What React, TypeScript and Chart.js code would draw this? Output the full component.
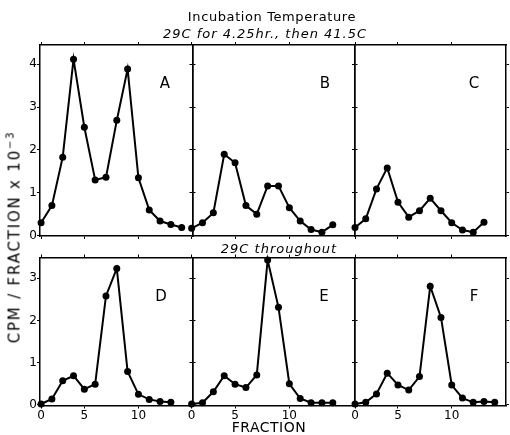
import React, { useEffect, useRef } from "react";
import { Chart, registerables } from "chart.js";

Chart.register(...registerables);

// ---- data ----
const FRACTIONS = [1, 2, 3, 4, 5, 6, 7, 8, 9, 10, 11, 12, 13, 14];
const A_VALUES = [0.3, 0.7, 1.83, 4.12, 2.53, 1.3, 1.36, 2.69, 3.89, 1.35, 0.6, 0.34, 0.26, 0.19];
const B_VALUES = [0.17, 0.3, 0.53, 1.9, 1.7, 0.7, 0.5, 1.16, 1.16, 0.65, 0.34, 0.14, 0.08, 0.25];
const C_VALUES = [0.19, 0.39, 1.09, 1.58, 0.78, 0.43, 0.58, 0.87, 0.58, 0.3, 0.13, 0.08, 0.31];
const D_VALUES = [0.02, 0.14, 0.57, 0.69, 0.37, 0.49, 2.58, 3.23, 0.79, 0.25, 0.13, 0.08, 0.06];
const E_VALUES = [0.02, 0.05, 0.31, 0.69, 0.49, 0.41, 0.71, 3.43, 2.31, 0.5, 0.15, 0.05, 0.05, 0.05];
const F_VALUES = [0.02, 0.06, 0.26, 0.75, 0.47, 0.35, 0.67, 2.81, 2.07, 0.47, 0.16, 0.06, 0.08, 0.06];
const Y_TICKS_TOP = [0, 1, 2, 3, 4];
const Y_TICKS_BOTTOM = [0, 1, 2, 3];
const X_TICK_VALUES = [1, 5, 10];
const X_TICK_LABELS = ["0", "5", "10"];
const PANEL_LETTERS = ["A", "B", "C", "D", "E", "F"];
const TITLE_LINE_1 = "Incubation Temperature";
const TITLE_LINE_2 = "29C for 4.25hr., then 41.5C";
const SUBTITLE_BOTTOM = "29C throughout";
const Y_TITLE = "CPM / FRACTION x 10";
const X_TITLE = "FRACTION";

// ---- layout (positions, not data) ----
const W = 510;
const H = 435;
const FONT = "'DejaVu Sans', sans-serif";
const COLS = [
  { l: 40, r: 192.5, min: 0.9, max: 15 },
  { l: 192.5, r: 354.5, min: 1.08, max: 16 },
  { l: 355, r: 506.5, min: 1, max: 15.05 },
];
const ROWS = [
  { t: 45, b: 236, min: -0.01, max: 4.45, ticks: Y_TICKS_TOP },
  { t: 257.5, b: 405.5, min: -0.015, max: 3.49, ticks: Y_TICKS_BOTTOM },
];
const LETTER_POS = [
  [165, 83], [325, 83], [474, 83],
  [161, 296], [324, 296], [474, 296],
];
const WL = 24, WR = 3, HT = 3, HB = 22;

type PanelProps = { values: number[]; col: number; row: number };

function Panel({ values, col, row }: PanelProps) {
  const ref = useRef<HTMLCanvasElement>(null);
  useEffect(() => {
    if (!ref.current) return;
    const c = COLS[col];
    const r = ROWS[row];
    const showY = col === 0;
    const showX = row === 1;
    const grid = {
      display: true,
      drawOnChartArea: false,
      drawTicks: true,
      tickLength: 3,
      color: "#000",
      lineWidth: 1,
    };
    const border = { display: true, color: "#000", width: 1.5 };
    const tickFont = { family: FONT, size: 12 };
    const yTicks = (s: any) => {
      s.ticks = r.ticks.map((v) => ({ value: v }));
    };
    const xTicks = (s: any) => {
      s.ticks = X_TICK_VALUES.map((v) => ({ value: v }));
    };
    const chart = new Chart(ref.current, {
      type: "line",
      data: {
        datasets: [
          {
            data: values.map((v, i) => ({ x: FRACTIONS[i], y: v })),
            borderColor: "#000",
            backgroundColor: "#000",
            borderWidth: 2,
            pointRadius: 3.5,
            pointBorderWidth: 0,
            pointBackgroundColor: "#000",
            tension: 0,
            clip: false as any,
          },
        ],
      },
      options: {
        responsive: false,
        animation: false,
        events: [],
        layout: {
          padding: {
            left: c.l - WL,
            right: W - c.r - WR,
            top: r.t - HT,
            bottom: H - r.b - HB,
          },
        },
        plugins: { legend: { display: false }, tooltip: { enabled: false }, title: { display: false } },
        scales: {
          x: {
            type: "linear",
            position: "bottom",
            min: c.min,
            max: c.max,
            grid,
            border,
            afterBuildTicks: xTicks,
            ticks: {
              display: showX,
              color: "#000",
              font: tickFont,
              padding: 0,
              maxRotation: 0,
              callback: (v: any) => {
                const i = X_TICK_VALUES.indexOf(Number(v));
                return i >= 0 ? X_TICK_LABELS[i] : "";
              },
            },
            afterFit: (s: any) => {
              s.height = HB;
              s.paddingLeft = 0;
              s.paddingRight = 0;
            },
          },
          x2: {
            type: "linear",
            position: "top",
            min: c.min,
            max: c.max,
            grid,
            border,
            afterBuildTicks: xTicks,
            ticks: { display: false },
            afterFit: (s: any) => {
              s.height = HT;
              s.paddingLeft = 0;
              s.paddingRight = 0;
            },
          },
          y: {
            type: "linear",
            position: "left",
            min: r.min,
            max: r.max,
            grid,
            border,
            afterBuildTicks: yTicks,
            ticks: {
              display: showY,
              color: "#000",
              font: tickFont,
              padding: 0,
              callback: (v: any) => String(v),
            },
            afterFit: (s: any) => {
              s.width = WL;
              s.paddingTop = 0;
              s.paddingBottom = 0;
            },
          },
          y2: {
            type: "linear",
            position: "right",
            min: r.min,
            max: r.max,
            grid,
            border,
            afterBuildTicks: yTicks,
            ticks: { display: false },
            afterFit: (s: any) => {
              s.width = WR;
              s.paddingTop = 0;
              s.paddingBottom = 0;
            },
          },
        },
      },
    } as any);
    return () => chart.destroy();
  }, [values, col, row]);
  return (
    <canvas
      ref={ref}
      width={W}
      height={H}
      style={{ position: "absolute", left: 0, top: 0, width: W, height: H, pointerEvents: "none" }}
    />
  );
}

const ALL_VALUES = [A_VALUES, B_VALUES, C_VALUES, D_VALUES, E_VALUES, F_VALUES];

const textBase: React.CSSProperties = {
  position: "absolute",
  fontFamily: FONT,
  color: "#000",
  whiteSpace: "nowrap",
  transform: "translate(-50%, -50%)",
  lineHeight: 1,
};

export default function App() {
  return (
    <div
      style={{
        position: "fixed",
        left: 0,
        top: 0,
        width: W,
        height: H,
        background: "#fff",
        overflow: "hidden",
      }}
    >
      {ALL_VALUES.map((vals, i) => (
        <Panel key={i} values={vals} col={i % 3} row={Math.floor(i / 3)} />
      ))}
      <div style={{ ...textBase, left: 272, top: 16, fontSize: 13, letterSpacing: 0.6 }}>{TITLE_LINE_1}</div>
      <div style={{ ...textBase, left: 265, top: 33, fontSize: 13, fontStyle: "italic", letterSpacing: 1 }}>
        {TITLE_LINE_2}
      </div>
      <div style={{ ...textBase, left: 279, top: 248, fontSize: 13, fontStyle: "italic", letterSpacing: 1 }}>
        {SUBTITLE_BOTTOM}
      </div>
      <div style={{ ...textBase, left: 269, top: 427, fontSize: 14, letterSpacing: 0.5 }}>{X_TITLE}</div>
      <div
        style={{
          ...textBase,
          left: 14,
          top: 237,
          fontSize: 15,
          letterSpacing: 1.8,
          transform: "translate(-50%, -50%) rotate(-90deg)",
        }}
      >
        {Y_TITLE}
        <sup style={{ fontSize: 10 }}>−3</sup>
      </div>
      {PANEL_LETTERS.map((L, i) => (
        <div key={L} style={{ ...textBase, left: LETTER_POS[i][0], top: LETTER_POS[i][1], fontSize: 15 }}>
          {L}
        </div>
      ))}
    </div>
  );
}
